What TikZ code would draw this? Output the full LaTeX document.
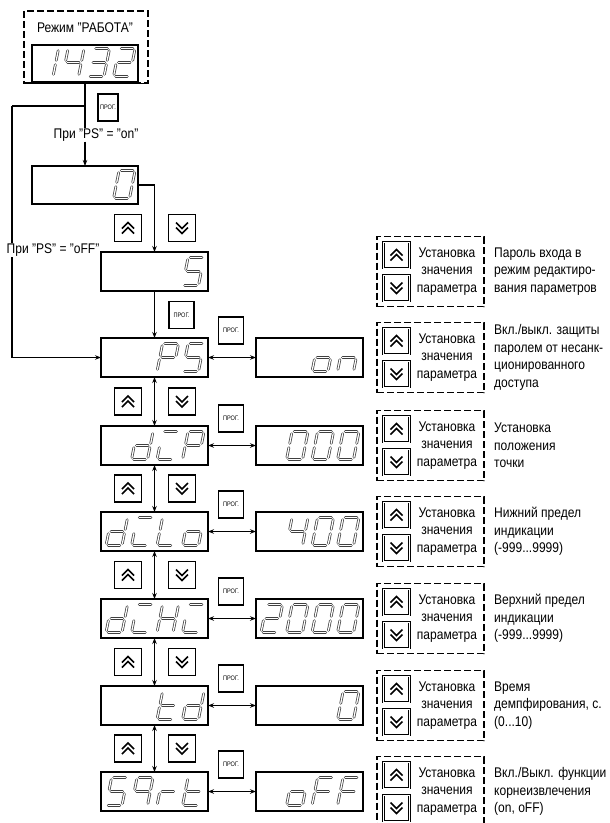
\documentclass[tikz,border=0pt]{standalone}
\usepackage{fontspec}
\setmainfont[FakeStretch=0.86]{Liberation Sans}
\usetikzlibrary{arrows.meta}
\tikzset{
 segline/.style={draw=black!75, double=white, double distance=1.2pt, line width=0.75pt, line cap=round},
 dispbox/.style={draw, line width=1.5pt, minimum width=107pt, minimum height=39pt, inner sep=0pt, outer sep=0pt, anchor=north west},
 btn/.style={draw, line width=1.8pt, minimum width=27pt, minimum height=27pt, inner sep=0pt},
 lbtn/.style={draw, line width=0.9pt, double=white, double distance=0.9pt, minimum width=26pt, minimum height=26pt, inner sep=0pt},
 prog/.style={draw, line width=1.3pt, minimum width=25pt, minimum height=27pt, inner sep=0pt, font=\fontsize{6.5}{7}\selectfont},
 chev/.style={line width=1.6pt},
 arr/.style={line width=1.1pt, -{Stealth[length=6pt,width=4.5pt]}},
 darr/.style={line width=1.1pt, {Stealth[length=6pt,width=4.5pt]}-{Stealth[length=6pt,width=4.5pt]}},
 plain/.style={line width=1.1pt},
 legbox/.style={draw, dash pattern=on 7pt off 3pt, line width=1.4pt, minimum width=107pt, minimum height=70pt, inner sep=0pt},
 txt/.style={font=\fontsize{14}{17.5}\selectfont, inner sep=0pt, align=left}
}
\newcommand\dsega{\draw[segline] (2.2,-28) -- (13.8,-28);}
\newcommand\dsegb{\draw[segline] (16,-25.8) -- (16,-16.2);}
\newcommand\dsegc{\draw[segline] (16,-11.8) -- (16,-2.2);}
\newcommand\dsegd{\draw[segline] (2.2,0) -- (13.8,0);}
\newcommand\dsege{\draw[segline] (0,-2.2) -- (0,-11.8);}
\newcommand\dsegf{\draw[segline] (0,-16.2) -- (0,-25.8);}
\newcommand\dsegg{\draw[segline] (2.2,-14) -- (13.8,-14);}
\newcommand\sevdigit[3]{\begin{scope}[shift={(#1,#2)},xslant=0.2]\foreach \s in {#3}{\csname dseg\s\endcsname}\end{scope}}
\newcommand\dig[4]{\sevdigit{#1+5+#3*25.5}{#2-5.5}{#4}}
\newcommand\chevup[1]{%
 \draw[chev] ([shift={(-6,0.5)}]#1.center) -- ([shift={(0,-5.5)}]#1.center) -- ([shift={(6,0.5)}]#1.center);
 \draw[chev] ([shift={(-6,5.5)}]#1.center) -- ([shift={(0,-0.5)}]#1.center) -- ([shift={(6,5.5)}]#1.center);}
\newcommand\chevdn[1]{%
 \draw[chev] ([shift={(-6,-0.5)}]#1.center) -- ([shift={(0,5.5)}]#1.center) -- ([shift={(6,-0.5)}]#1.center);
 \draw[chev] ([shift={(-6,-5.5)}]#1.center) -- ([shift={(0,0.5)}]#1.center) -- ([shift={(6,-5.5)}]#1.center);}
\newcommand\plegend[3]{%
 \node[legbox] (#1L) at (430.5,#2) {};
 \node[lbtn] (#1Lu) at (396.5,#2-16.5) {}; \chevup{#1Lu}
 \node[lbtn] (#1Ld) at (396.5,#2+16.5) {}; \chevdn{#1Ld}
 \node[txt, align=center] (#1Lt) at (447,#2) {Установка\\значения\\параметра};
 \node[txt, anchor=west] (#1Lx) at (494,#2) {#3};}
\newcommand\prow[3]{%
 \node[dispbox] (#1m) at (101,#2) {};
 \node[dispbox] (#1v) at (256,#2) {};
 \draw[darr] (#1m) -- (#1v);
 \node[prog] (#1p) at (231,#2-7.5) {ПРОГ.};
 \plegend{#1}{#2+19.5}{#3}}
\newcommand\pstep[3]{%
 \draw[darr] (#1m.south) -- (#2m.north);
 \node[btn] (#1u) at (128,#3) {}; \chevup{#1u}
 \node[btn] (#1d) at (182,#3) {}; \chevdn{#1d}}
\begin{document}
\begin{tikzpicture}[x=1pt,y=-1pt]
\useasboundingbox[fill=white] (0,0) rectangle (610,823);
% mode box
\node[draw, dash pattern=on 7pt off 3pt, line width=1.5pt, minimum width=124pt, minimum height=72pt, anchor=north west, inner sep=0pt] (mode) at (23,10) {};
\draw[line width=1.5pt] (mode.south west) -- (mode.south east);
\node[txt] (modet) at (85,28) {Режим "РАБОТА"};
\node[dispbox, minimum width=106pt, minimum height=37pt] (dtop) at (32,45) {};
\dig{32}{82}{0}{b,c}
\dig{32}{82}{1}{f,g,b,c}
\dig{32}{82}{2}{a,b,g,c,d}
\dig{32}{82}{3}{a,b,g,e,d}
% PS on branch
\node[prog, minimum width=20pt] (p0) at (108,107.5) {ПРОГ.};
\node[txt] (pson) at (96,135) {При "PS" = "on"};
\draw[plain] (dtop.south) -- (dtop.south |- pson.north);
\coordinate (br) at (85,106);
\coordinate (lc) at (12,106);
\draw[plain] (br) -- (lc);
\node[dispbox, minimum width=106pt, minimum height=38pt] (zero) at (32,166) {};
\draw[arr] (pson.south -| dtop.south) -- (zero.north);
\dig{32}{204}{3}{a,b,c,d,e,f}
\node[btn] (zu) at (128,228) {}; \chevup{zu}
\node[btn] (zd) at (182,228) {}; \chevdn{zd}
\node[dispbox] (five) at (101,252) {};
\dig{101}{291}{3}{a,f,g,c,d}
\draw[arr] (zero.east) -| (five.north);
\node[prog] (p1) at (181.5,315) {ПРОГ.};
\plegend{fv}{271.5}{Пароль входа в\\режим редактиро-\\вания параметров}
% rows
\prow{ps}{338}{Вкл./выкл. защиты\\паролем от несанк-\\ционированного\\доступа}
\prow{dp}{426}{Установка\\положения\\точки}
\prow{dlo}{512}{Нижний предел\\индикации\\(-999...9999)}
\prow{dhi}{599}{Верхний предел\\индикации\\(-999...9999)}
\prow{td}{686}{Время\\демпфирования, с.\\(0...10)}
\prow{sq}{772}{Вкл./Выкл. функции\\корнеизвлечения\\(on, oFF)}
\draw[arr] (five.south) -- (psm.north);
\draw[arr] (lc) |- (psm.west);
\node[txt, fill=white, inner sep=1pt] (psoff) at (53,250) {При "PS" = "oFF"};
\pstep{ps}{dp}{401.5}
\pstep{dp}{dlo}{488.5}
\pstep{dlo}{dhi}{575}
\pstep{dhi}{td}{662}
\pstep{td}{sq}{748.5}
% digits rows
\dig{101}{377}{2}{a,b,f,g,e}
\dig{101}{377}{3}{a,f,g,c,d}
\dig{256}{377}{2}{c,d,e,g}
\dig{256}{377}{3}{c,e,g}
\dig{101}{465}{1}{b,c,d,e,g}
\dig{101}{465}{2}{a,e,d}
\dig{101}{465}{3}{a,b,f,g,e}
\dig{256}{465}{1}{a,b,c,d,e,f}
\dig{256}{465}{2}{a,b,c,d,e,f}
\dig{256}{465}{3}{a,b,c,d,e,f}
\dig{101}{551}{0}{b,c,d,e,g}
\dig{101}{551}{1}{a,e,d}
\dig{101}{551}{2}{f,e,d}
\dig{101}{551}{3}{c,d,e,g}
\dig{256}{551}{1}{f,g,b,c}
\dig{256}{551}{2}{a,b,c,d,e,f}
\dig{256}{551}{3}{a,b,c,d,e,f}
\dig{101}{638}{0}{b,c,d,e,g}
\dig{101}{638}{1}{a,e,d}
\dig{101}{638}{2}{b,c,e,f,g}
\dig{101}{638}{3}{a,e,d}
\dig{256}{638}{0}{a,b,g,e,d}
\dig{256}{638}{1}{a,b,c,d,e,f}
\dig{256}{638}{2}{a,b,c,d,e,f}
\dig{256}{638}{3}{a,b,c,d,e,f}
\dig{101}{725}{2}{f,e,d,g}
\dig{101}{725}{3}{b,c,d,e,g}
\dig{256}{725}{3}{a,b,c,d,e,f}
\dig{101}{811}{0}{a,f,g,c,d}
\dig{101}{811}{1}{a,b,c,f,g}
\dig{101}{811}{2}{e,g}
\dig{101}{811}{3}{f,e,d,g}
\dig{256}{811}{1}{c,d,e,g}
\dig{256}{811}{2}{a,e,f,g}
\dig{256}{811}{3}{a,e,f,g}
\end{tikzpicture}
\end{document}
